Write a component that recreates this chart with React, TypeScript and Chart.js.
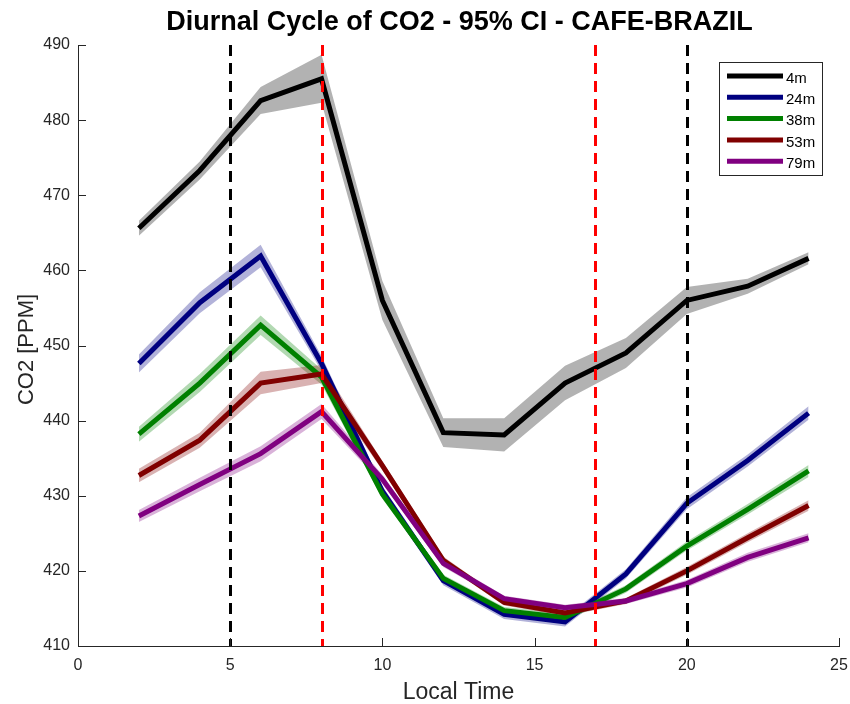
import React, { useEffect, useRef } from "react";
import { Chart, registerables } from "chart.js";

Chart.register(...registerables);

const hours = [2, 4, 6, 8, 10, 12, 14, 16, 18, 20, 22, 24];
const seriesNames = ["4m", "24m", "38m", "53m", "79m"];
const co2_4m = [465.6, 473.3, 482.6, 485.5, 456.0, 438.4, 438.1, 445.0, 449.0, 456.0, 457.9, 461.6];
const ci_4m = [1.0, 1.2, 1.8, 3.2, 2.6, 1.9, 2.2, 2.3, 2.0, 1.8, 1.0, 0.8];
const co2_24m = [447.6, 455.7, 461.9, 447.6, 430.6, 418.7, 414.2, 413.2, 419.6, 429.0, 434.7, 441.0];
const ci_24m = [1.2, 1.4, 1.5, 1.0, 0.7, 0.6, 0.6, 0.6, 0.6, 0.8, 0.8, 0.9];
const co2_38m = [438.2, 445.0, 452.7, 445.8, 430.2, 419.0, 414.7, 413.8, 417.6, 423.3, 428.2, 433.3];
const ci_38m = [1.0, 1.2, 1.3, 1.0, 0.6, 0.5, 0.5, 0.5, 0.5, 0.6, 0.7, 0.8];
const co2_53m = [432.7, 437.4, 445.0, 446.2, 434.0, 421.4, 415.8, 414.4, 416.0, 420.0, 424.4, 428.7];
const ci_53m = [0.9, 1.0, 1.5, 1.2, 0.6, 0.5, 0.4, 0.4, 0.4, 0.5, 0.6, 0.7];
const co2_79m = [427.3, 431.5, 435.6, 441.2, 432.2, 421.0, 416.3, 415.1, 416.0, 418.3, 421.8, 424.4];
const ci_79m = [0.8, 0.9, 1.0, 1.0, 0.6, 0.5, 0.4, 0.4, 0.4, 0.5, 0.6, 0.6];
const xTicks = [0, 5, 10, 15, 20, 25];
const yTicks = [410, 420, 430, 440, 450, 460, 470, 480, 490];
const blackLines = [5, 20];
const redLines = [8, 17];
const titleText = "Diurnal Cycle of CO2 - 95% CI - CAFE-BRAZIL";
const xTitle = "Local Time";
const yTitle = "CO2 [PPM]";

const lineColors = ["#000000", "#000080", "#008000", "#800000", "#800080"];
const bandColors = [
  "rgba(0,0,0,0.3)",
  "rgba(0,0,128,0.3)",
  "rgba(0,128,0,0.3)",
  "rgba(128,0,0,0.3)",
  "rgba(128,0,128,0.3)",
];
const allValues = [co2_4m, co2_24m, co2_38m, co2_53m, co2_79m];
const allCI = [ci_4m, ci_24m, ci_38m, ci_53m, ci_79m];

const FONT = "'Liberation Sans', Arial, Helvetica, sans-serif";
const AXIS_COLOR = "#262626";

const overlayPlugin = {
  id: "overlay",
  afterDatasetsDraw(chart: any) {
    const { ctx, chartArea, scales } = chart;
    const x = scales.x;
    ctx.save();
    ctx.lineWidth = 3;
    ctx.setLineDash([11, 7]);
    const draw = (vals: number[], color: string) => {
      vals.forEach((v) => {
        const px = Math.round(x.getPixelForValue(v)) + 0.5;
        ctx.strokeStyle = color;
        ctx.beginPath();
        ctx.moveTo(px, chartArea.top);
        ctx.lineTo(px, chartArea.bottom);
        ctx.stroke();
      });
    };
    draw(blackLines, "#000000");
    draw(redLines, "#ff0000");
    ctx.restore();
  },
  afterDraw(chart: any) {
    const { ctx, chartArea, scales } = chart;
    const x = scales.x;
    const y = scales.y;
    ctx.save();
    // inward ticks
    ctx.strokeStyle = AXIS_COLOR;
    ctx.lineWidth = 1;
    ctx.setLineDash([]);
    xTicks.forEach((t) => {
      const px = Math.round(x.getPixelForValue(t)) + 0.5;
      ctx.beginPath();
      ctx.moveTo(px, chartArea.bottom);
      ctx.lineTo(px, chartArea.bottom - 8);
      ctx.stroke();
    });
    yTicks.forEach((t) => {
      const py = Math.round(y.getPixelForValue(t)) + 0.5;
      ctx.beginPath();
      ctx.moveTo(chartArea.left, py);
      ctx.lineTo(chartArea.left + 8, py);
      ctx.stroke();
    });
    const cx = (chartArea.left + chartArea.right) / 2;
    const cy = (chartArea.top + chartArea.bottom) / 2;
    // title
    ctx.fillStyle = "#000000";
    ctx.font = `bold 27px ${FONT}`;
    ctx.textAlign = "center";
    ctx.textBaseline = "middle";
    ctx.fillText(titleText, cx + 1, 23);
    // axis titles
    ctx.fillStyle = AXIS_COLOR;
    ctx.font = `23px ${FONT}`;
    ctx.fillText(xTitle, cx, 693);
    ctx.save();
    ctx.translate(27, cy + 4);
    ctx.rotate(-Math.PI / 2);
    ctx.font = `22px ${FONT}`;
    ctx.fillText(yTitle, 0, 0);
    ctx.restore();
    // legend
    const bx = 719.5, by = 62.5, bw = 103, bh = 113;
    ctx.fillStyle = "#ffffff";
    ctx.fillRect(bx, by, bw, bh);
    ctx.strokeStyle = "#262626";
    ctx.lineWidth = 1;
    ctx.strokeRect(bx, by, bw, bh);
    ctx.font = `15px ${FONT}`;
    ctx.textAlign = "left";
    ctx.textBaseline = "middle";
    seriesNames.forEach((name, i) => {
      const ly = 76 + i * 21.3;
      ctx.strokeStyle = lineColors[i];
      ctx.lineWidth = 5;
      ctx.beginPath();
      ctx.moveTo(727, ly);
      ctx.lineTo(783, ly);
      ctx.stroke();
      ctx.fillStyle = "#000000";
      ctx.fillText(name, 786, ly + 2.5);
    });
    ctx.restore();
  },
};

export default function App() {
  const canvasRef = useRef<HTMLCanvasElement | null>(null);

  useEffect(() => {
    if (!canvasRef.current) return;
    const datasets: any[] = [];
    seriesNames.forEach((name, k) => {
      const vals = allValues[k];
      const ci = allCI[k];
      datasets.push({
        label: name + " upper",
        data: hours.map((h, i) => ({ x: h, y: vals[i] + ci[i] })),
        borderWidth: 0,
        pointRadius: 0,
        backgroundColor: bandColors[k],
        borderColor: "rgba(0,0,0,0)",
        fill: "+1",
        order: 30 - k,
      });
      datasets.push({
        label: name + " lower",
        data: hours.map((h, i) => ({ x: h, y: vals[i] - ci[i] })),
        borderWidth: 0,
        pointRadius: 0,
        borderColor: "rgba(0,0,0,0)",
        fill: false,
        order: 30 - k,
      });
    });
    seriesNames.forEach((name, k) => {
      const vals = allValues[k];
      datasets.push({
        label: name,
        data: hours.map((h, i) => ({ x: h, y: vals[i] })),
        borderColor: lineColors[k],
        borderWidth: 5,
        pointRadius: 0,
        fill: false,
        tension: 0,
        borderJoinStyle: "miter",
        order: 10 - k,
      });
    });

    const chart = new Chart(canvasRef.current, {
      type: "line",
      data: { datasets },
      options: {
        animation: false,
        responsive: false,
        events: [],
        layout: { padding: { top: 45, right: 11, bottom: 0, left: 0 } },
        plugins: {
          legend: { display: false },
          title: { display: false },
          tooltip: { enabled: false },
          filler: { drawTime: "beforeDatasetsDraw" },
        } as any,
        scales: {
          x: {
            type: "linear",
            min: 0,
            max: 25,
            afterFit: (s: any) => {
              s.height = 58;
              s.paddingLeft = 0;
              s.paddingRight = 0;
            },
            afterBuildTicks: (s: any) => {
              s.ticks = xTicks.map((v) => ({ value: v }));
            },
            grid: { display: false, drawTicks: false },
            border: { display: true, color: AXIS_COLOR, width: 1 },
            ticks: {
              font: { family: FONT, size: 16 },
              color: AXIS_COLOR,
              padding: 10,
              maxRotation: 0,
            },
            title: { display: false },
          },
          y: {
            type: "linear",
            min: 410,
            max: 490,
            afterFit: (s: any) => {
              s.width = 78;
              s.paddingTop = 0;
              s.paddingBottom = 0;
            },
            afterBuildTicks: (s: any) => {
              s.ticks = yTicks.map((v) => ({ value: v }));
            },
            grid: { display: false, drawTicks: false },
            border: { display: true, color: AXIS_COLOR, width: 1 },
            ticks: {
              font: { family: FONT, size: 16 },
              color: AXIS_COLOR,
              padding: 8,
            },
            title: { display: false },
          },
        },
      },
      plugins: [overlayPlugin],
    });
    return () => chart.destroy();
  }, []);

  return (
    <div style={{ position: "absolute", left: 0, top: 0, width: 850, height: 704, background: "#ffffff" }}>
      <canvas ref={canvasRef} width={850} height={704} style={{ width: 850, height: 704 }} />
    </div>
  );
}
